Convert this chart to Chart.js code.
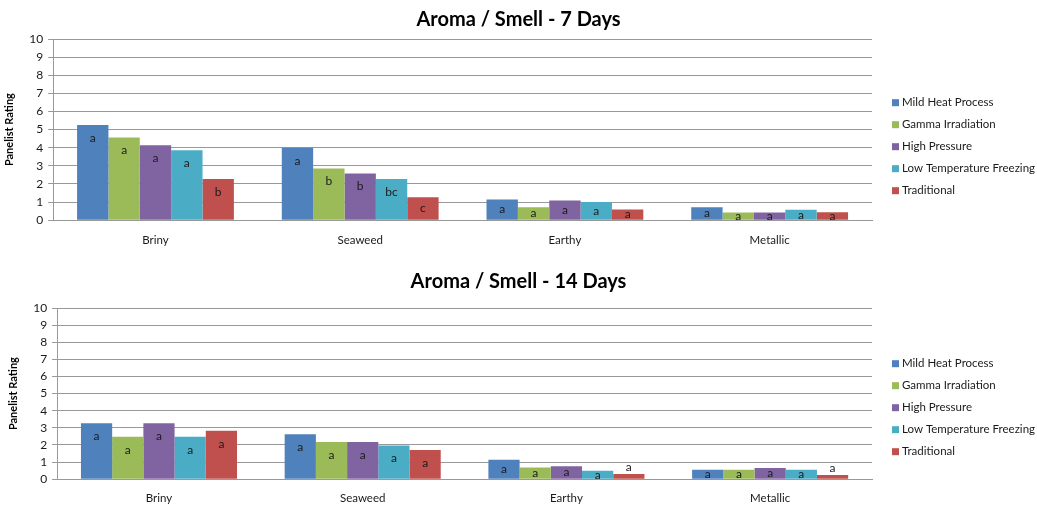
<!DOCTYPE html>
<html>
<head>
<meta charset="utf-8">
<script src="https://cdn.jsdelivr.net/npm/chart.js@4.4.0/dist/chart.umd.min.js"></script>
<style>
  body { margin: 0; background: #fff; }
  .box { position: absolute; left: 0; width: 1037px; }
</style>
</head>
<body>
<div class="box" style="top:0;height:256px"><canvas id="chart7"></canvas></div>
<div class="box" style="top:258px;height:250px"><canvas id="chart14"></canvas></div>
<script>
// categories and series
const categories = ["Briny", "Seaweed", "Earthy", "Metallic"];
const seriesNames = ["Mild Heat Process", "Gamma Irradiation", "High Pressure", "Low Temperature Freezing", "Traditional"];
const seriesColors = ["#4F81BD", "#9BBB59", "#8064A2", "#4BACC6", "#C0504D"];
const yTicks = [0, 1, 2, 3, 4, 5, 6, 7, 8, 9, 10];

// 7 days ratings
const day7MildHeat = [5.25, 4.0, 1.14, 0.72];
const day7Gamma = [4.56, 2.86, 0.72, 0.42];
const day7HighPressure = [4.13, 2.58, 1.09, 0.42];
const day7LowTemp = [3.86, 2.27, 1.0, 0.57];
const day7Traditional = [2.27, 1.27, 0.59, 0.44];

// 14 days ratings
const day14MildHeat = [3.27, 2.63, 1.13, 0.55];
const day14Gamma = [2.48, 2.18, 0.68, 0.55];
const day14HighPressure = [3.27, 2.18, 0.76, 0.66];
const day14LowTemp = [2.48, 1.97, 0.49, 0.55];
const day14Traditional = [2.83, 1.70, 0.31, 0.25];

// significance letters
const day7LettersMildHeat = ["a", "a", "a", "a"];
const day7LettersGamma = ["a", "b", "a", "a"];
const day7LettersHighPressure = ["a", "b", "a", "a"];
const day7LettersLowTemp = ["a", "bc", "a", "a"];
const day7LettersTraditional = ["b", "c", "a", "a"];
const day14Letters = ["a", "a", "a", "a"];

const FONT = "Lato, 'Liberation Sans', sans-serif";

// draw the letters on the bars
const letterPlugin = {
  id: "letters",
  afterDatasetsDraw(chart) {
    const ctx = chart.ctx;
    ctx.save();
    ctx.font = "12px " + FONT;
    ctx.fillStyle = "#1a1a1a";
    ctx.textAlign = "center";
    ctx.textBaseline = "middle";
    chart.data.datasets.forEach((ds, i) => {
      const meta = chart.getDatasetMeta(i);
      meta.data.forEach((bar, j) => {
        const h = bar.base - bar.y;
        let y;
        if (h < 6) y = bar.y - 7;
        else if (h < 28) y = (bar.y + bar.base) / 2;
        else y = bar.y + 13;
        ctx.fillText(ds.letters[j], bar.x, y);
      });
    });
    ctx.restore();
  }
};

// title centred on the whole width + legend to the right of the plot, like the excel one
const sideLegend = {
  id: "sideLegend",
  afterDraw(chart, args, opts) {
    const ctx = chart.ctx;
    const area = chart.chartArea;
    ctx.save();
    ctx.font = "bold 20px " + FONT;
    ctx.fillStyle = "#000";
    ctx.textAlign = "center";
    ctx.textBaseline = "middle";
    ctx.fillText(opts.title, chart.width / 2, opts.titleY);

    const x = area.right + 20;
    const mid = area.bottom - opts.legendUp;
    const step = 22;
    const n = chart.data.datasets.length;
    ctx.font = "11.5px " + FONT;
    ctx.textAlign = "left";
    chart.data.datasets.forEach((ds, i) => {
      const y = mid + (i - (n - 1) / 2) * step;
      ctx.fillStyle = ds.backgroundColor;
      ctx.fillRect(x, y - 3.5, 7, 7);
      ctx.fillStyle = "#1a1a1a";
      ctx.fillText(ds.label, x + 10, y);
    });
    ctx.restore();
  }
};

function makeChart(id, title, values, letters, pad) {
  const datasets = values.map((v, i) => ({
    label: seriesNames[i],
    data: v,
    letters: letters[i],
    backgroundColor: seriesColors[i],
    borderWidth: 0
  }));
  return new Chart(document.getElementById(id), {
    type: "bar",
    data: { labels: categories, datasets: datasets },
    plugins: [letterPlugin, sideLegend],
    options: {
      responsive: true,
      maintainAspectRatio: false,
      animation: false,
      categoryPercentage: 0.766,
      barPercentage: 1.0,
      layout: { padding: { left: pad.left, right: 165, top: pad.top, bottom: pad.bottom } },
      plugins: {
        legend: { display: false },
        tooltip: { enabled: false },
        title: { display: false },
        sideLegend: { title: title, titleY: pad.titleY, legendUp: pad.legendUp }
      },
      scales: {
        x: {
          grid: { display: false, drawTicks: false },
          border: { display: true, color: "#999" },
          ticks: { color: "#1a1a1a", font: { family: FONT, size: 11.5 }, padding: pad.xPad }
        },
        y: {
          min: 0,
          max: 10,
          afterBuildTicks: (axis) => { axis.ticks = yTicks.map(v => ({ value: v })); },
          grid: { color: "#999", lineWidth: 1, tickLength: 5 },
          border: { display: true, color: "#999" },
          ticks: { color: "#1a1a1a", font: { family: FONT, size: 12 }, padding: 5, autoSkip: false },
          title: {
            display: true,
            text: "Panelist Rating",
            color: "#000",
            font: { family: FONT, size: 11, weight: "bold" },
            padding: { top: 0, bottom: 8 }
          }
        }
      }
    }
  });
}

makeChart("chart7", "Aroma / Smell - 7 Days",
  [day7MildHeat, day7Gamma, day7HighPressure, day7LowTemp, day7Traditional],
  [day7LettersMildHeat, day7LettersGamma, day7LettersHighPressure, day7LettersLowTemp, day7LettersTraditional],
  { left: 3, top: 39, bottom: -4, xPad: 13, titleY: 20, legendUp: 73.5 });

makeChart("chart14", "Aroma / Smell - 14 Days",
  [day14MildHeat, day14Gamma, day14HighPressure, day14LowTemp, day14Traditional],
  [day14Letters, day14Letters, day14Letters, day14Letters, day14Letters],
  { left: 7, top: 50, bottom: -9, xPad: 12, titleY: 24, legendUp: 71.5 });
</script>
</body>
</html>
